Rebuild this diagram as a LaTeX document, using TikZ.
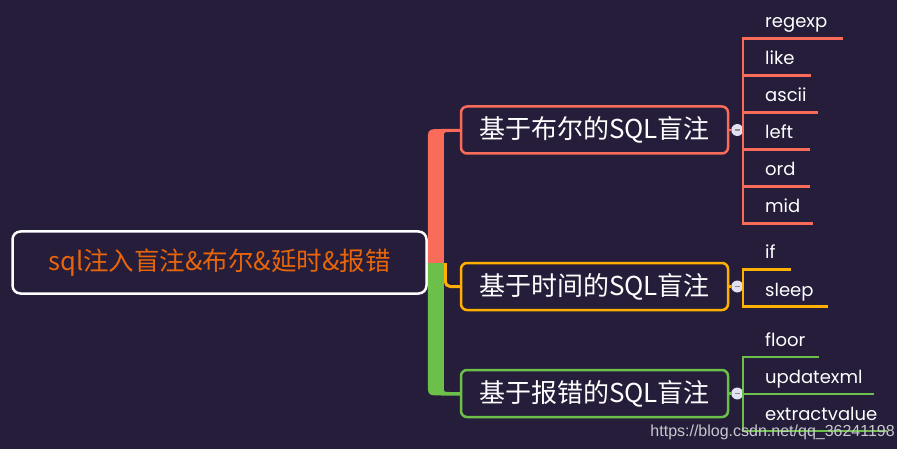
\documentclass[tikz,border=0pt]{standalone}
\usepackage{fontspec}
\usetikzlibrary{calc}
\newfontfamily\cjk{Noto Sans CJK SC}
\newfontfamily\leaffont{Poppins}
\newfontfamily\wmfont{Liberation Sans}
\definecolor{bg}{RGB}{37,29,58}
\definecolor{cred}{RGB}{250,108,90}
\definecolor{corange}{RGB}{255,176,0}
\definecolor{cgreen}{RGB}{108,192,74}
\definecolor{roottext}{RGB}{232,101,10}
\definecolor{knob}{RGB}{225,225,242}
\definecolor{wm}{RGB}{200,200,205}
\begin{document}
\begin{tikzpicture}[x=1pt,y=-1pt,
  rootbox/.style={draw=white, line width=2.5pt, rounded corners=8pt, minimum width=414pt, minimum height=62pt, inner sep=0pt, text=roottext, font=\cjk\fontsize{25.5}{25.5}\selectfont},
  catbox/.style={draw, line width=2.5pt, rounded corners=6pt, minimum width=267pt, minimum height=47pt, inner sep=0pt, text=white, font=\cjk\fontsize{26}{26}\selectfont},
  leaf/.style={anchor=base west, inner sep=0pt, text=white, font=\leaffont\fontsize{18}{18}\selectfont},
  leafline/.style={line width=2.5pt},
  knobst/.style={circle, fill=knob, minimum size=12pt, inner sep=0pt},
  minusst/.style={line width=1.3pt, draw=black!45}
]
\fill[bg] (0,0) rectangle (897,449);
\useasboundingbox (0,0) rectangle (897,449);

% root and category boxes
\node[rootbox] (root) at (219.5,262.5) {sql注入盲注\&布尔\&延时\&报错};
\node[catbox, draw=cred] (b1) at (594.5,130) {基于布尔的SQL盲注};
\node[catbox, draw=corange] (b2) at (594.5,286.5) {基于时间的SQL盲注};
\node[catbox, draw=cgreen] (b3) at (594.5,393.5) {基于报错的SQL盲注};

% trunk: red upper part
\fill[cred] ($(root.east)+(0,0.5)$) -- ($(root.east |- b1.west)+(0,13)$)
  .. controls ($(root.east |- b1.west)+(0,-1)$) .. ($(root.east |- b1.west)+(14,-1)$)
  -- ($(b1.west)+(0,-1)$) -- ($(b1.west)+(0,2)$) -- ($(root.east |- b1.west)+(22,2)$)
  .. controls ($(root.east |- b1.west)+(16,2)$) .. ($(root.east |- b1.west)+(16,8)$)
  -- ($(root.east)+(16,0.5)$) -- cycle;
% trunk: green lower part
\fill[cgreen] ($(root.east)+(0,0.5)$) -- ($(root.east |- b3.west)+(0,-12)$)
  .. controls ($(root.east |- b3.west)+(0,2)$) .. ($(root.east |- b3.west)+(14,2)$)
  -- ($(b3.west)+(0,2)$) -- ($(b3.west)+(0,-1.5)$) -- ($(root.east |- b3.west)+(22,-1.5)$)
  .. controls ($(root.east |- b3.west)+(16,-1.5)$) .. ($(root.east |- b3.west)+(16,-7)$)
  -- ($(root.east)+(16,0.5)$) -- cycle;
% orange branch
\draw[corange, line width=3pt, rounded corners=5pt] ($(root.east)+(17.5,0.5)$) |- (b2.west);

% knobs
\foreach \b/\c in {b1/cred, b2/corange, b3/cgreen}{
  \node[knobst] (k\b) at ($(\b.east)+(8,0)$) {};
  \draw[\c, line width=2.5pt] (\b.east) -- (k\b.west);
  \draw[minusst] ($(k\b.center)+(-2.5,0)$) -- ($(k\b.center)+(2.5,0)$);
}

% red leaves
\coordinate (r1) at (743,38.3);  \coordinate (r1e) at (843,38.3);
\coordinate (r2) at (743,75.3);  \coordinate (r2e) at (811,75.3);
\coordinate (r3) at (743,112.3); \coordinate (r3e) at (818,112.3);
\coordinate (r4) at (743,149.3); \coordinate (r4e) at (810,149.3);
\coordinate (r5) at (743,186.3); \coordinate (r5e) at (810,186.3);
\coordinate (r6) at (743,223.3); \coordinate (r6e) at (813,223.3);
\draw[leafline, cred] ($(r1)+(0,-1.25)$) -- ($(r6)+(0,1.25)$);
\foreach \i in {1,...,6}{ \draw[leafline, cred] (r\i) -- (r\i e); }
\node[leaf] (l1) at ($(r1)+(22,-10.5)$) {regexp};
\node[leaf] (l2) at ($(r2)+(22,-10.5)$) {like};
\node[leaf] (l3) at ($(r3)+(22,-10.5)$) {ascii};
\node[leaf] (l4) at ($(r4)+(22,-10.5)$) {left};
\node[leaf] (l5) at ($(r5)+(22,-10.5)$) {ord};
\node[leaf] (l6) at ($(r6)+(22,-10.5)$) {mid};

% orange leaves
\coordinate (o1) at (743,269.3); \coordinate (o1e) at (791,269.3);
\coordinate (o2) at (743,306.7); \coordinate (o2e) at (828,306.7);
\draw[leafline, corange] ($(o1)+(0,-1.25)$) -- ($(o2)+(0,1.25)$);
\foreach \i in {1,2}{ \draw[leafline, corange] (o\i) -- (o\i e); }
\node[leaf] (m1) at ($(o1)+(22,-10.5)$) {if};
\node[leaf] (m2) at ($(o2)+(22,-10.5)$) {sleep};

% green leaves
\coordinate (g1) at (743,357); \coordinate (g1e) at (819,357);
\coordinate (g2) at (743,394); \coordinate (g2e) at (874,394);
\coordinate (g3) at (743,431); \coordinate (g3e) at (887,431);
\draw[leafline, cgreen] ($(g1)+(0,-1.25)$) -- ($(g3)+(0,1.25)$);
\foreach \i in {1,2,3}{ \draw[leafline, cgreen] (g\i) -- (g\i e); }
\node[leaf] (n1) at ($(g1)+(22,-10.5)$) {floor};
\node[leaf] (n2) at ($(g2)+(22,-10.5)$) {updatexml};
\node[leaf] (n3) at ($(g3)+(22,-10.5)$) {extractvalue};

% watermark
\node[anchor=base east, inner sep=0pt, text=wm, font=\wmfont\fontsize{16}{16}\selectfont] (wmark) at (895,436) {https://blog.csdn.net/qq\_36241198};
\end{tikzpicture}
\end{document}
